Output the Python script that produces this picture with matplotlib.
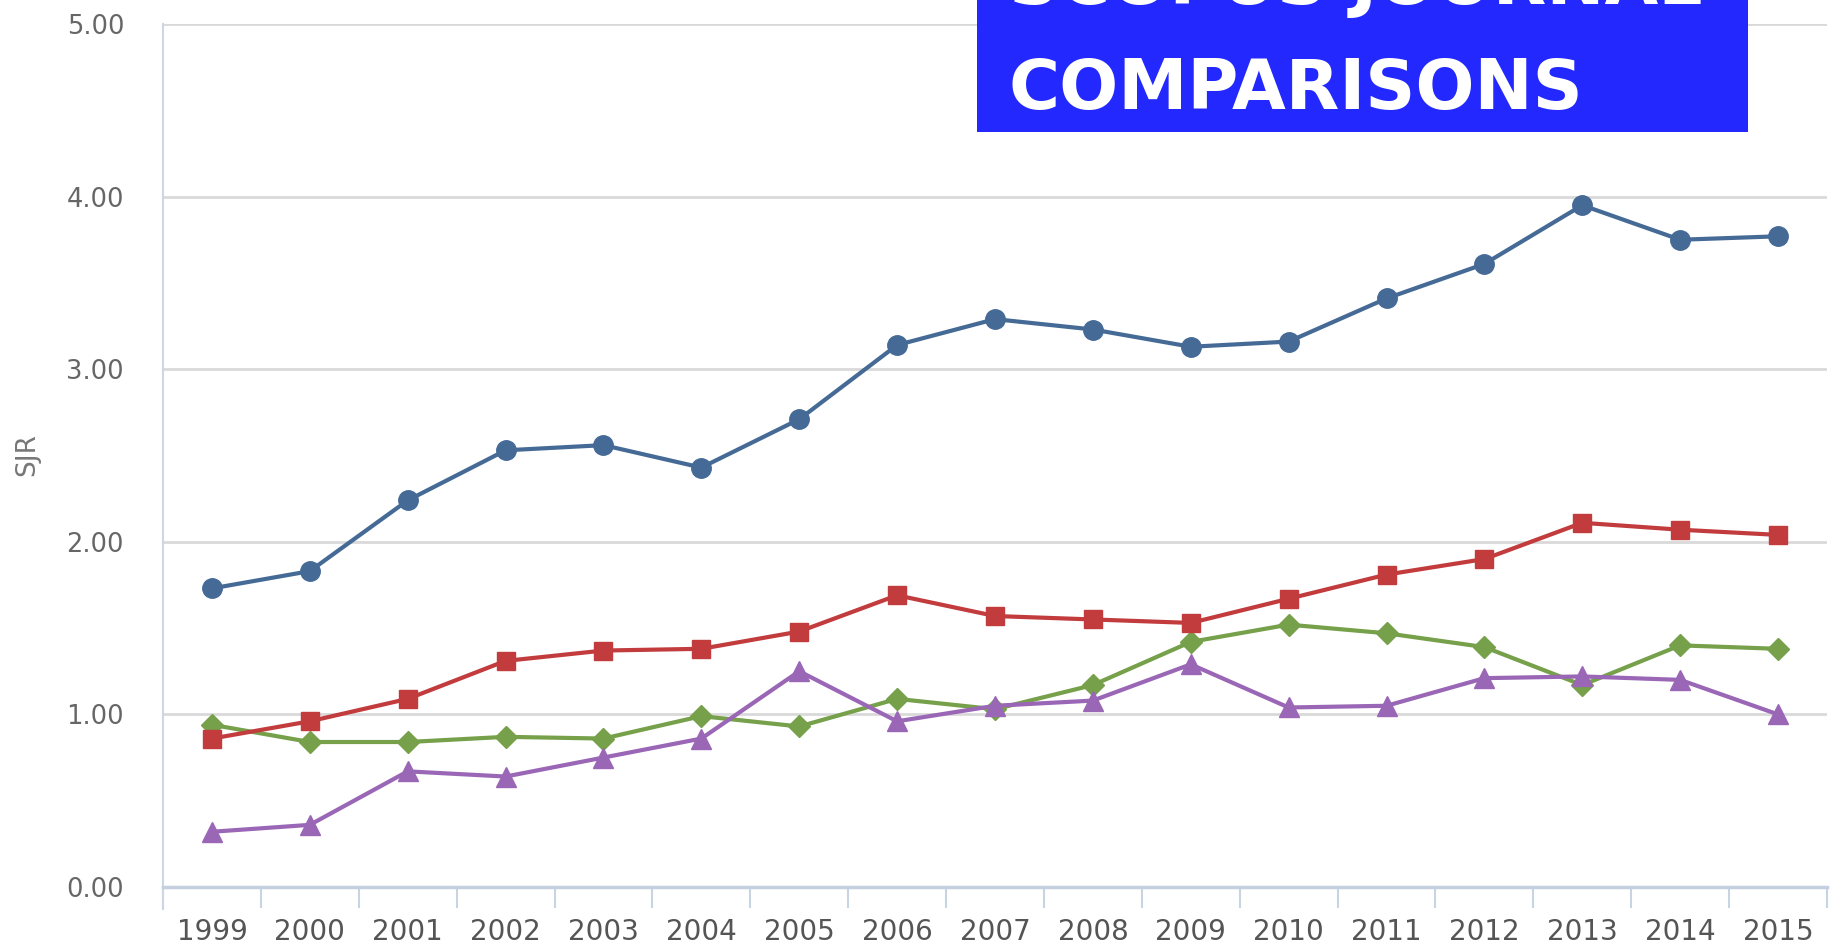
import matplotlib
matplotlib.use("Agg")
import matplotlib.pyplot as plt
from matplotlib.patches import Rectangle
import numpy as np

years = list(range(1999, 2016))
series_blue = [1.73, 1.83, 2.24, 2.53, 2.56, 2.43, 2.71, 3.14, 3.29, 3.23, 3.13, 3.16, 3.41, 3.61, 3.95, 3.75, 3.77]
series_red = [0.86, 0.96, 1.09, 1.31, 1.37, 1.38, 1.48, 1.69, 1.57, 1.55, 1.53, 1.67, 1.81, 1.90, 2.11, 2.07, 2.04]
series_green = [0.94, 0.84, 0.84, 0.87, 0.86, 0.99, 0.93, 1.09, 1.03, 1.17, 1.42, 1.52, 1.47, 1.39, 1.17, 1.40, 1.38]
series_purple = [0.32, 0.36, 0.67, 0.64, 0.75, 0.86, 1.25, 0.96, 1.05, 1.08, 1.29, 1.04, 1.05, 1.21, 1.22, 1.20, 1.00]
y_ticks = [0, 1, 2, 3, 4, 5]
y_label = "SJR"
title_line1 = "SCOPUS JOURNAL"
title_line2 = "COMPARISONS"

W, H = 1831, 951
fig = plt.figure(figsize=(W / 100, H / 100), dpi=100)
fig.patch.set_facecolor("white")

left, right, bottom_px, top_px = 163, 1827, 887, 24
ax = fig.add_axes([left / W, 1 - bottom_px / H, (right - left) / W, (bottom_px - top_px) / H])
ax.set_facecolor("white")

x = np.array(years)
lw = 3.0
ax.plot(x, series_blue, color="#456a96", lw=lw, marker="o", ms=14, zorder=5, clip_on=False)
ax.plot(x, series_red, color="#c23b3d", lw=lw, marker="s", ms=13.5, zorder=4, clip_on=False)
ax.plot(x, series_green, color="#76a04a", lw=lw, marker="D", ms=11, zorder=3, clip_on=False)
ax.plot(x, series_purple, color="#9a66b6", lw=lw, marker="^", ms=14.5, zorder=3, clip_on=False)

ax.set_xlim(years[0] - 0.5, years[-1] + 0.5)
ax.set_ylim(0, 5)

ax.set_yticks(y_ticks)
ax.set_yticklabels([f"{v:.2f}" for v in y_ticks])
ax.yaxis.grid(True, color="#d9d9d9", lw=2, zorder=0)
ax.set_axisbelow(True)
ax.tick_params(axis="y", length=0, pad=28, labelsize=18.5, labelcolor="#666666")

ax.set_xticks(np.arange(years[0] - 0.5, years[-1] + 1.0, 1.0))
ax.set_xticklabels([])
ax.set_xticks(x, minor=True)
ax.set_xticklabels([str(y) for y in years], minor=True)
ax.tick_params(axis="x", which="major", length=15, width=1.5, color="#c8d4e4", direction="out")
ax.tick_params(axis="x", which="minor", length=0, pad=22, labelsize=20, labelcolor="#555555")

for s in ["top", "right"]:
    ax.spines[s].set_visible(False)
ax.spines["bottom"].set_color("#c4d0e0")
ax.spines["bottom"].set_linewidth(2.5)
ax.spines["left"].set_color("#ccd6e6")
ax.spines["left"].set_linewidth(1.5)
ax.spines["left"].set_bounds(-0.13, 5)

ax.set_ylabel(y_label, fontsize=19, color="#777777")
ax.yaxis.set_label_coords((40 - left) / (right - left), (887 - 455) / (887 - 24))

# Title box
box = Rectangle((977 / W, 1 - 132 / H), (1748 - 977) / W, 132 / H + 0.01,
                transform=fig.transFigure, facecolor="#2329fe", edgecolor="none", zorder=10)
fig.add_artist(box)
fig.text(1009 / W, 1 - 109 / H, title_line2, transform=fig.transFigure, color="white",
         fontsize=50, fontweight="bold", fontfamily="DejaVu Sans", ha="left", va="baseline", zorder=11)
fig.text(1009 / W, 1 - 4 / H, title_line1, transform=fig.transFigure, color="white",
         fontsize=50, fontweight="bold", fontfamily="DejaVu Sans", ha="left", va="baseline", zorder=11)

fig.savefig("out.png", dpi=100, facecolor="white")
